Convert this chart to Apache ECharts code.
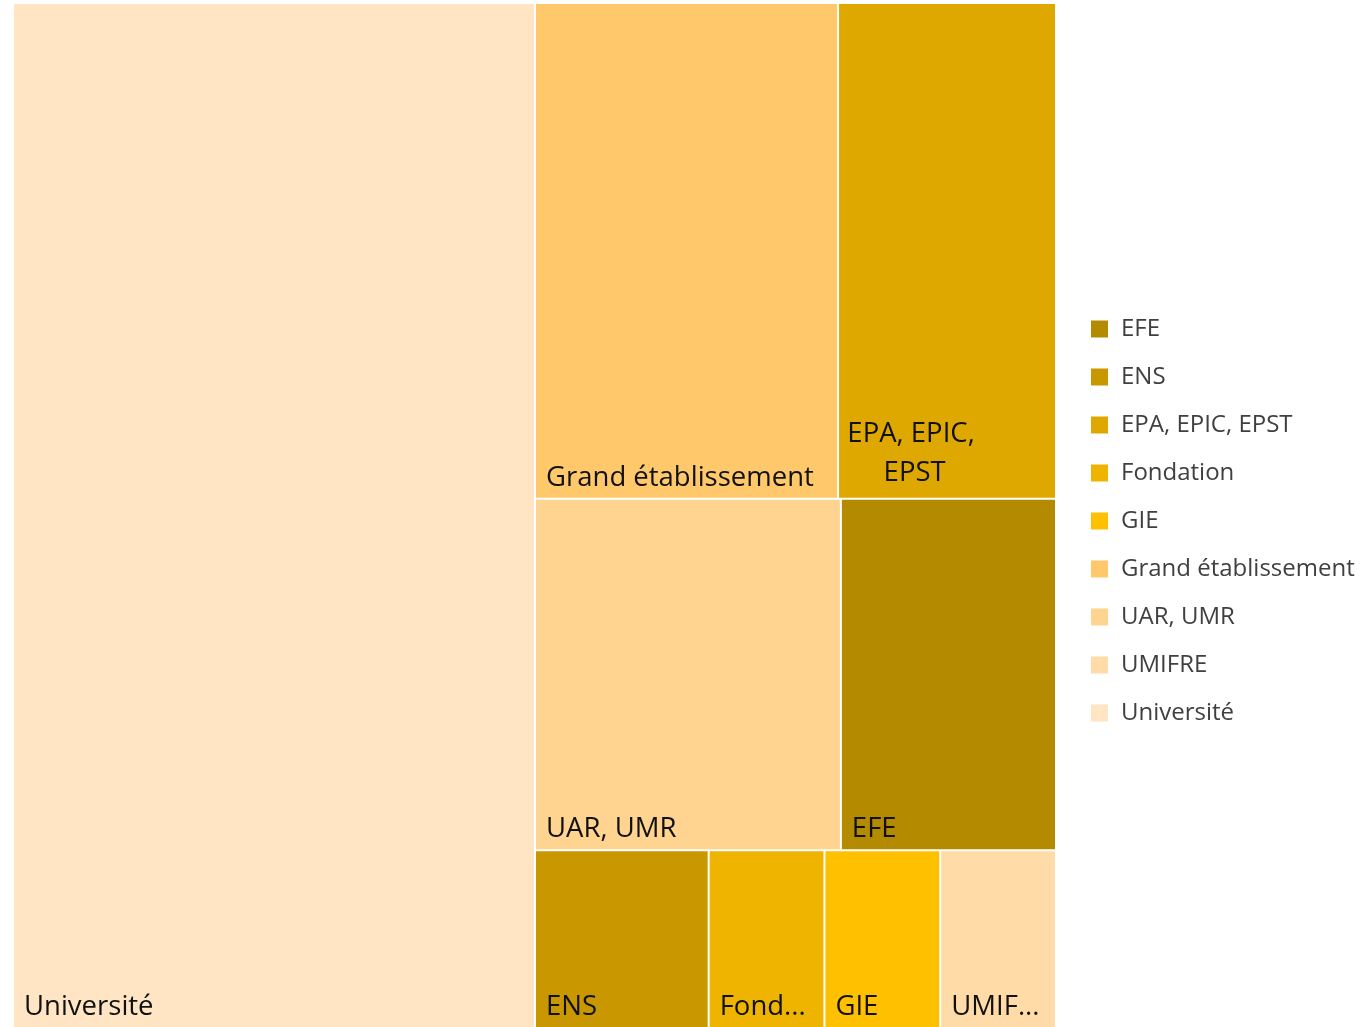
<!DOCTYPE html>
<html>
<head>
<meta charset="utf-8">
<script src="https://cdn.jsdelivr.net/npm/echarts@6/dist/echarts.min.js"></script>
<style>
  html, body { margin: 0; padding: 0; background: #fff; }
  #chart { width: 1365px; height: 1027px; }
</style>
</head>
<body>
<div id="chart"></div>
<script>
// données du treemap (ordre d'affichage, du plus grand au plus petit)
const categories = ['Université', 'Grand établissement', 'EPA, EPIC, EPST', 'UAR, UMR', 'EFE', 'ENS', 'Fondation', 'GIE', 'UMIFRE']
const values = [104, 29.2, 21, 20.9, 14.7, 6, 4, 4, 4]
const colors = ['#FFE5C4', '#FFC96B', '#DFA800', '#FFD491', '#B38A00', '#C99700', '#EFB400', '#FFC000', '#FFDBA8']

// ordre de la légende
const legendNames = ['EFE', 'ENS', 'EPA, EPIC, EPST', 'Fondation', 'GIE', 'Grand établissement', 'UAR, UMR', 'UMIFRE', 'Université']

const FONT = '"Segoe UI", "Open Sans", sans-serif'
const colorOf = name => colors[categories.indexOf(name)]

const treeData = categories.map((name, i) => {
  const item = { name, value: values[i], itemStyle: { color: colors[i] } }
  // libellé centré sur deux lignes pour EPA
  if (name === 'EPA, EPIC, EPST') {
    item.label = {
      position: ['35%', '100%'],
      align: 'center',
      verticalAlign: 'bottom',
      overflow: 'break',
      padding: [0, 30, 5, 30],
      lineHeight: 39
    }
  }
  return item
})

const chart = echarts.init(document.getElementById('chart'))

chart.setOption({
  animation: false,
  legend: {
    orient: 'vertical',
    left: 1086,
    top: 312,
    icon: 'rect',
    itemWidth: 17,
    itemHeight: 17,
    itemGap: 24,
    data: legendNames,
    textStyle: { fontFamily: FONT, fontSize: 24, lineHeight: 22, color: '#404040', padding: [0, 0, 0, 8] }
  },
  // axes cachés pour les séries de légende
  grid: { show: false, left: 0, top: 0, width: 1, height: 1 },
  xAxis: { show: false, type: 'category', data: [] },
  yAxis: { show: false, type: 'value' },
  series: [
    {
      type: 'treemap',
      left: 14,
      top: 4,
      width: 1041,
      height: 1023,
      roam: false,
      nodeClick: false,
      sort: false,
      squareRatio: 1.18,
      breadcrumb: { show: false },
      label: {
        show: true,
        position: 'insideBottomLeft',
        distance: 0,
        padding: [0, 10, 5, 10],
        color: '#111',
        fontFamily: FONT,
        fontSize: 27.5,
        lineHeight: 30,
        overflow: 'truncate',
        ellipsis: '...'
      },
      levels: [
        { itemStyle: { borderWidth: 0, gapWidth: 2 } },
        { itemStyle: { borderWidth: 0, gapWidth: 0 } }
      ],
      data: treeData
    },
    ...legendNames.map(name => ({
      type: 'bar',
      name,
      data: [],
      itemStyle: { color: colorOf(name) }
    }))
  ]
})
</script>
</body>
</html>
